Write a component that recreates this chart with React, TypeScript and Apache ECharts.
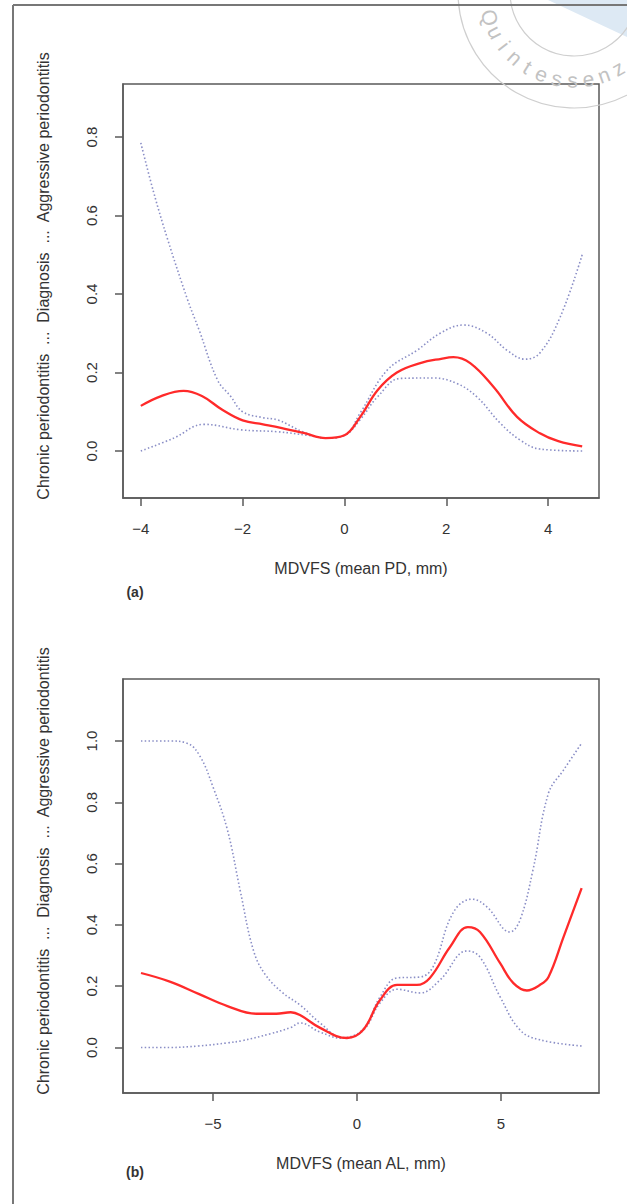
import React, { useEffect, useRef } from "react";
import * as echarts from "echarts";

// ---------- Data: panel (a) MDVFS (mean PD, mm) ----------
const A_X_TICKS = [-4, -2, 0, 2, 4];
const A_Y_TICKS = [0, 0.2, 0.4, 0.6, 0.8];
const A_FIT_X = [-4, -3.6, -3.16, -2.8, -2.4, -2.0, -1.6, -1.25, -0.8, -0.37, 0, 0.31, 0.65, 1.03, 1.49, 1.9, 2.14, 2.47, 2.93, 3.39, 3.84, 4.2, 4.67];
const A_FIT_Y = [0.115, 0.14, 0.153, 0.14, 0.105, 0.078, 0.068, 0.059, 0.046, 0.033, 0.04, 0.087, 0.155, 0.2, 0.224, 0.235, 0.239, 0.224, 0.163, 0.087, 0.045, 0.025, 0.012];
const A_UP_X = [-4, -3.75, -3.47, -3.08, -2.86, -2.49, -2.24, -2.0, -1.6, -1.31, -0.8, -0.37, 0, 0.31, 0.84, 1.43, 1.88, 2.34, 2.8, 3.19, 3.55, 3.84, 4.24, 4.67];
const A_UP_Y = [0.785, 0.66, 0.538, 0.385, 0.31, 0.18, 0.14, 0.1, 0.085, 0.079, 0.048, 0.033, 0.04, 0.097, 0.206, 0.257, 0.3, 0.321, 0.3, 0.257, 0.234, 0.25, 0.342, 0.5];
const A_LO_X = [-4, -3.35, -2.76, -2.04, -1.31, -0.73, -0.37, 0, 0.31, 0.65, 1.1, 1.75, 2.21, 2.6, 3.06, 3.45, 3.84, 4.67];
const A_LO_Y = [0.0, 0.033, 0.068, 0.054, 0.049, 0.04, 0.033, 0.04, 0.08, 0.138, 0.185, 0.186, 0.172, 0.138, 0.071, 0.028, 0.005, 0.0];

// ---------- Data: panel (b) MDVFS (mean AL, mm) ----------
const B_X_TICKS = [-5, 0, 5];
const B_Y_TICKS = [0, 0.2, 0.4, 0.6, 0.8, 1.0];
const B_FIT_X = [-7.5, -6.5, -5.5, -4.5, -3.5, -2.8, -2.3, -1.98, -1.28, -0.35, 0.21, 0.8, 1.39, 2.08, 2.53, 3.23, 3.85, 4.27, 4.97, 5.43, 5.9, 6.35, 6.65, 7.17, 7.8];
const B_FIT_Y = [0.243, 0.215, 0.175, 0.135, 0.11, 0.11, 0.115, 0.106, 0.064, 0.031, 0.057, 0.155, 0.204, 0.204, 0.227, 0.328, 0.393, 0.377, 0.275, 0.21, 0.186, 0.204, 0.23, 0.36, 0.52];
const B_UP_X = [-7.5, -6.5, -5.9, -5.45, -5.0, -4.5, -4.06, -3.6, -3.2, -2.6, -1.98, -1.28, -0.5, 0.21, 0.8, 1.39, 2.19, 2.64, 3.34, 3.99, 4.51, 5.31, 5.66, 6.11, 6.65, 7.17, 7.8];
const B_UP_Y = [1.0, 1.0, 0.993, 0.95, 0.85, 0.71, 0.514, 0.318, 0.24, 0.18, 0.139, 0.08, 0.032, 0.06, 0.165, 0.227, 0.23, 0.263, 0.44, 0.484, 0.459, 0.377, 0.416, 0.579, 0.83, 0.905, 0.993];
const B_LO_X = [-7.5, -6.5, -5.5, -4.5, -4.0, -3.0, -2.3, -1.98, -1.28, -0.5, 0.21, 0.8, 1.39, 2.19, 2.88, 3.82, 4.27, 4.97, 5.66, 6.35, 7.8];
const B_LO_Y = [0.0, 0.0, 0.005, 0.015, 0.022, 0.045, 0.065, 0.08, 0.05, 0.03, 0.055, 0.145, 0.19, 0.178, 0.22, 0.315, 0.295, 0.165, 0.057, 0.025, 0.005];

const Y_TITLE = "Chronic periodontitis  ...  Diagnosis  ...  Aggressive periodontitis";
const A_X_TITLE = "MDVFS (mean PD, mm)";
const B_X_TITLE = "MDVFS (mean AL, mm)";
const STAMP_TEXT = "Quintessenz";

const FONT = "Liberation Sans, Arial, sans-serif";
const AXIS_COLOR = "#5a5a5a";
const TEXT_COLOR = "#333";
const FIT_COLOR = "#ff2a2a";
const CI_COLOR = "#8a8ec6";

const pairs = (xs: number[], ys: number[]) => xs.map((x, i) => [x, ys[i]]);
const fmtX = (v: number) => (v < 0 ? "\u2212" + Math.abs(v) : String(v));
const fmtY = (v: number) => v.toFixed(1);

function xAxisCfg(grid: number, min: number, max: number, ticks: number[], name: string) {
  return {
    type: "value",
    gridIndex: grid,
    min,
    max,
    axisLine: { show: true, onZero: false, lineStyle: { color: AXIS_COLOR, width: 1.5 } },
    axisTick: { show: true, inside: false, length: 8, customValues: ticks, lineStyle: { color: AXIS_COLOR, width: 1.5 } },
    axisLabel: { customValues: ticks, formatter: fmtX, fontSize: 15, color: TEXT_COLOR, fontFamily: FONT, margin: 23 },
    splitLine: { show: false },
    name,
    nameLocation: "middle",
    nameGap: 62,
    nameTextStyle: { fontSize: 16, color: TEXT_COLOR, fontFamily: FONT },
  };
}

function yAxisCfg(grid: number, min: number, max: number, ticks: number[]) {
  return {
    type: "value",
    gridIndex: grid,
    min,
    max,
    axisLine: { show: true, onZero: false, lineStyle: { color: AXIS_COLOR, width: 1.5 } },
    axisTick: { show: true, inside: false, length: 8, customValues: ticks, lineStyle: { color: AXIS_COLOR, width: 1.5 } },
    axisLabel: { customValues: ticks, formatter: fmtY, rotate: 90, fontSize: 15, color: TEXT_COLOR, fontFamily: FONT, margin: 24 },
    splitLine: { show: false },
  };
}

function lineSeries(name: string, xi: number, data: number[][], dotted: boolean) {
  return {
    type: "line",
    name,
    xAxisIndex: xi,
    yAxisIndex: xi,
    data,
    smooth: 0.4,
    showSymbol: false,
    symbol: "none",
    lineStyle: dotted
      ? { color: CI_COLOR, width: 1.6, type: [1.5, 2.3] }
      : { color: FIT_COLOR, width: 2.3 },
    z: dotted ? 2 : 3,
  };
}

function stampLetters() {
  const cx = 574, cy = -8, r = 88;
  const start = 163, end = 60;
  const n = STAMP_TEXT.length;
  return STAMP_TEXT.split("").map((ch, i) => {
    const deg = start + ((end - start) * i) / (n - 1);
    const rad = (deg * Math.PI) / 180;
    return {
      type: "text",
      x: cx + r * Math.cos(rad),
      y: cy + r * Math.sin(rad),
      rotation: -((deg - 90) * Math.PI) / 180,
      style: { text: ch, fontSize: 21, fontFamily: FONT, fill: "#c2c2c2", align: "center", verticalAlign: "middle" },
      silent: true,
      z: 0,
    };
  });
}

export default function App() {
  const ref = useRef<HTMLDivElement>(null);
  useEffect(() => {
    if (!ref.current) return;
    const chart = echarts.init(ref.current, null, { renderer: "svg" });
    chart.setOption({
      animation: false,
      backgroundColor: "#ffffff",
      grid: [
        { left: 123, top: 84, width: 476, height: 414, show: true, borderColor: AXIS_COLOR, borderWidth: 1.5, backgroundColor: "transparent" },
        { left: 123, top: 679, width: 476, height: 414, show: true, borderColor: AXIS_COLOR, borderWidth: 1.5, backgroundColor: "transparent" },
      ],
      xAxis: [
        xAxisCfg(0, -4.35, 5.0, A_X_TICKS, A_X_TITLE),
        xAxisCfg(1, -8.125, 8.403, B_X_TICKS, B_X_TITLE),
      ],
      yAxis: [
        yAxisCfg(0, -0.1197, 0.935, A_Y_TICKS),
        yAxisCfg(1, -0.1485, 1.2023, B_Y_TICKS),
      ],
      series: [
        lineSeries("(a) upper", 0, pairs(A_UP_X, A_UP_Y), true),
        lineSeries("(a) lower", 0, pairs(A_LO_X, A_LO_Y), true),
        lineSeries("(a) fit", 0, pairs(A_FIT_X, A_FIT_Y), false),
        lineSeries("(b) upper", 1, pairs(B_UP_X, B_UP_Y), true),
        lineSeries("(b) lower", 1, pairs(B_LO_X, B_LO_Y), true),
        lineSeries("(b) fit", 1, pairs(B_FIT_X, B_FIT_Y), false),
      ],
      graphic: [
        { type: "polygon", shape: { points: [[548, 0], [627, 0], [627, 37]] }, style: { fill: "#dde9f4" }, silent: true, z: 0 },
        { type: "circle", shape: { cx: 574, cy: -8, r: 116 }, style: { fill: "none", stroke: "#cfcfcf", lineWidth: 1.2 }, silent: true, z: 0 },
        { type: "circle", shape: { cx: 574, cy: -8, r: 64 }, style: { fill: "none", stroke: "#cfcfcf", lineWidth: 1.2 }, silent: true, z: 0 },
        ...stampLetters(),
        { type: "line", shape: { x1: 13, y1: 5, x2: 13, y2: 1204 }, style: { stroke: "#777", lineWidth: 2 }, silent: true },
        { type: "line", shape: { x1: 13, y1: 5, x2: 627, y2: 5 }, style: { stroke: "#777", lineWidth: 2 }, silent: true },
        { type: "text", x: 43, y: 276, rotation: Math.PI / 2, style: { text: Y_TITLE, fontSize: 16, fontFamily: FONT, fill: TEXT_COLOR, align: "center", verticalAlign: "middle" } },
        { type: "text", x: 43, y: 871, rotation: Math.PI / 2, style: { text: Y_TITLE, fontSize: 16, fontFamily: FONT, fill: TEXT_COLOR, align: "center", verticalAlign: "middle" } },
        { type: "text", x: 135, y: 592, style: { text: "(a)", fontSize: 14, fontWeight: "bold", fontFamily: FONT, fill: TEXT_COLOR, align: "center", verticalAlign: "middle" } },
        { type: "text", x: 135, y: 1172, style: { text: "(b)", fontSize: 14, fontWeight: "bold", fontFamily: FONT, fill: TEXT_COLOR, align: "center", verticalAlign: "middle" } },
      ],
    });
    return () => chart.dispose();
  }, []);
  return (
    <div
      ref={ref}
      style={{ position: "absolute", left: 0, top: 0, width: 627, height: 1204, background: "#fff" }}
    />
  );
}
